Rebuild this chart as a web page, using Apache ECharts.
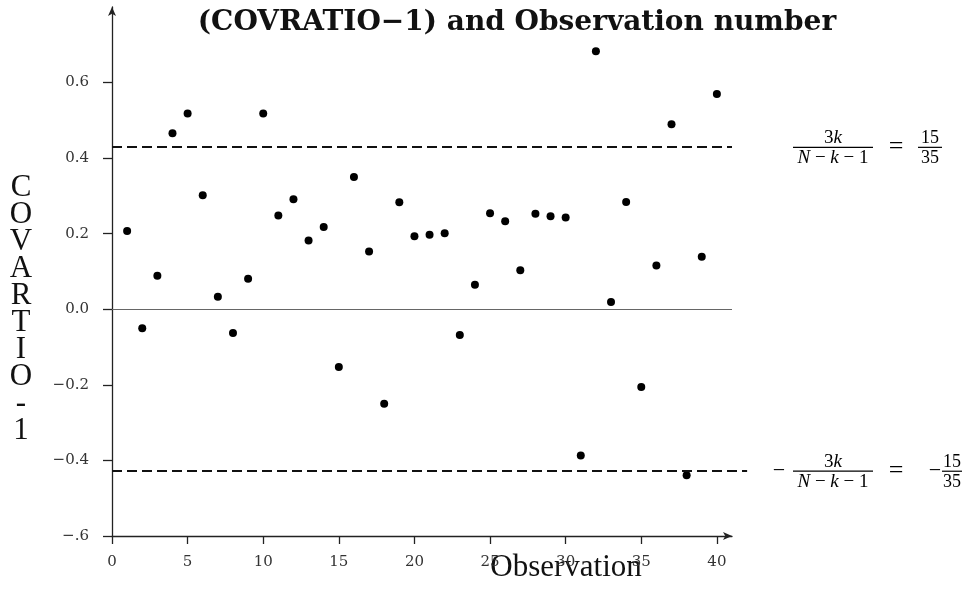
<!DOCTYPE html>
<html>
<head>
  <meta charset="UTF-8" />
  <title>(COVRATIO-1) and Observation number</title>
  <script src="https://cdn.jsdelivr.net/npm/echarts@6.0.0/dist/echarts.min.js"></script>
  <style>
    html, body, #main { margin: 0; padding: 0; width: 100%; height: 100%; background: #fff; }
  </style>
</head>
<body>
  <div id="main"></div>
  <script>
    // observation numbers and (COVRATIO - 1) values
    const observations = [1, 2, 3, 4, 5, 6, 7, 8, 9, 10, 11, 12, 13, 14, 15, 16, 17, 18, 19, 20,
      21, 22, 23, 24, 25, 26, 27, 28, 29, 30, 31, 32, 33, 34, 35, 36, 37, 38, 39, 40];
    const covratioMinus1 = [0.207, -0.050, 0.089, 0.466, 0.518, 0.302, 0.033, -0.063, 0.081, 0.518,
      0.248, 0.291, 0.182, 0.218, -0.153, 0.350, 0.153, -0.250, 0.283, 0.193,
      0.197, 0.201, -0.068, 0.065, 0.254, 0.233, 0.103, 0.253, 0.246, 0.243,
      -0.387, 0.683, 0.019, 0.284, -0.206, 0.116, 0.490, -0.439, 0.139, 0.570];
    const cutoff = 15 / 35;

    const xTicks = [0, 5, 10, 15, 20, 25, 30, 35, 40];
    const yTicks = [-0.6, -0.4, -0.2, 0, 0.2, 0.4, 0.6];
    const yTickLabels = ['\u2212.6', '\u22120.4', '\u22120.2', '0.0', '0.2', '0.4', '0.6'];

    const chart = echarts.init(document.getElementById('main'));
    const serif = 'Liberation Serif';
    const tickFont = { fontFamily: 'DejaVu Serif', fontSize: 15, color: '#333' };
    const dashed = { type: [10, 5], color: '#111', width: 2 };

    chart.setOption({
      animation: false,
      title: {
        text: '(COVRATIO\u22121) and Observation number',
        left: 512,
        top: 4,
        textAlign: 'center',
        textStyle: { fontFamily: 'DejaVu Serif', fontWeight: 'bold', fontSize: 28, color: '#111' }
      },
      grid: { left: 112, right: 237, top: 7, bottom: 56, containLabel: false, outerBoundsMode: 'none' },
      xAxis: {
        type: 'value',
        min: 0,
        max: 41,
        splitLine: { show: false },
        axisLine: {
          onZero: false,
          symbol: ['none', 'arrow'],
          symbolSize: [6, 9],
          lineStyle: { color: '#222', width: 1.3 }
        },
        axisTick: { customValues: xTicks, length: 8, lineStyle: { color: '#222', width: 1.3 } },
        axisLabel: Object.assign({ customValues: xTicks, margin: 19 }, tickFont)
      },
      yAxis: {
        type: 'value',
        min: -0.6,
        max: 0.8,
        splitLine: { show: false },
        axisLine: {
          onZero: false,
          symbol: ['none', 'arrow'],
          symbolSize: [6, 9],
          lineStyle: { color: '#222', width: 1.3 }
        },
        axisTick: { customValues: yTicks, length: 9, lineStyle: { color: '#222', width: 1.3 } },
        axisLabel: Object.assign({
          customValues: yTicks,
          margin: 23,
          formatter: v => {
            const i = yTicks.findIndex(t => Math.abs(t - v) < 1e-6);
            return i >= 0 ? yTickLabels[i] : '';
          }
        }, tickFont)
      },
      series: [
        {
          type: 'scatter',
          clip: false,
          symbolSize: 8,
          itemStyle: { color: '#000', opacity: 1 },
          data: observations.map((o, i) => [o, covratioMinus1[i]]),
          z: 3
        }
      ]
    });

    // the lower cutoff line runs a little past the x axis end (to x = 42)
    const yUp = chart.convertToPixel({ yAxisIndex: 0 }, cutoff);
    const yLo = chart.convertToPixel({ yAxisIndex: 0 }, -cutoff);
    const xEndLo = chart.convertToPixel({ xAxisIndex: 0 }, 42);

    // annotation texts: axis names and the cutoff formulas
    function rich(size) {
      return {
        r: { fontFamily: serif, fontSize: size, fill: '#000' },
        i: { fontFamily: serif, fontStyle: 'italic', fontSize: size, fill: '#000' }
      };
    }
    function fraction(num, den, cx, cy, halfW, size) {
      return [
        { type: 'text', x: cx, y: cy - 9, style: { text: num, rich: rich(size), align: 'center', verticalAlign: 'middle' } },
        { type: 'line', shape: { x1: cx - halfW, y1: cy, x2: cx + halfW, y2: cy }, style: { stroke: '#000', lineWidth: 1.2 } },
        { type: 'text', x: cx, y: cy + 11, style: { text: den, rich: rich(size), align: 'center', verticalAlign: 'middle' } }
      ];
    }
    function plain(txt, x, y, size) {
      return { type: 'text', x: x, y: y, style: { text: txt, fontFamily: serif, fontSize: size, fill: '#000', align: 'center', verticalAlign: 'middle' } };
    }

    const num = '{r|3}{i|k}';
    const den = '{i|N}{r| \u2212 }{i|k}{r| \u2212 1}';

    const elements = []
      .concat(fraction(num, den, 833, yUp, 40, 19))
      .concat([plain('=', 896, yUp, 26)])
      .concat(fraction('{r|15}', '{r|35}', 930, yUp, 12, 18))
      .concat([plain('\u2212', 779, yLo, 22)])
      .concat(fraction(num, den, 833, yLo, 40, 19))
      .concat([plain('=', 896, yLo, 26), plain('\u2212', 935, yLo, 22)])
      .concat(fraction('{r|15}', '{r|35}', 952, yLo, 10, 18));

    elements.push({
      type: 'text', x: 21, y: 309,
      style: {
        text: 'C\nO\nV\nA\nR\nT\nI\nO\n-\n1',
        fontFamily: serif, fontSize: 31, lineHeight: 27, fill: '#111',
        align: 'center', verticalAlign: 'middle'
      }
    });
    elements.push({
      type: 'text', x: 566, y: 568,
      style: { text: 'Observation', fontFamily: serif, fontSize: 31, fill: '#111', align: 'center', verticalAlign: 'middle' }
    });

    chart.setOption({
      series: [{
        markLine: {
          silent: true,
          symbol: 'none',
          label: { show: false },
          data: [
            { yAxis: 0, lineStyle: { type: 'solid', color: '#666', width: 1 } },
            { yAxis: cutoff, lineStyle: dashed },
            [{ coord: [0, -cutoff], lineStyle: dashed }, { x: xEndLo, y: yLo }]
          ]
        }
      }],
      graphic: { elements: elements }
    });
  </script>
</body>
</html>
